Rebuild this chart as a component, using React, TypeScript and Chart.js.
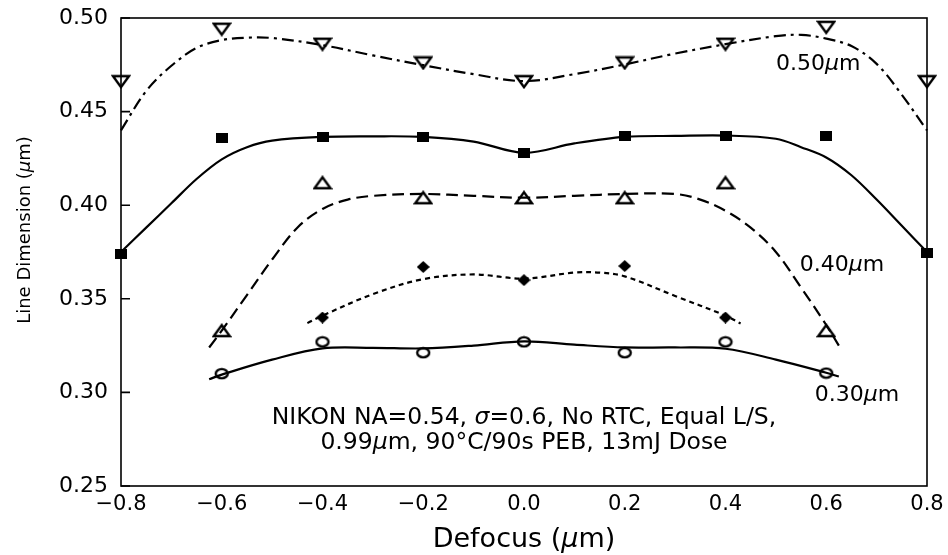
import React, { useEffect, useRef } from "react";
import { Chart, registerables } from "chart.js";

Chart.register(...registerables);

// ---- data ----
const xTicks = [-0.8, -0.6, -0.4, -0.2, 0, 0.2, 0.4, 0.6, 0.8];

// measured points
const pts050X = [-0.8, -0.6, -0.4, -0.2, 0, 0.2, 0.4, 0.6, 0.8];
const pts050Y = [0.466, 0.494, 0.486, 0.476, 0.466, 0.476, 0.486, 0.495, 0.466];

const ptsSqX = [-0.8, -0.6, -0.4, -0.2, 0, 0.2, 0.4, 0.6, 0.8];
const ptsSqY = [0.374, 0.436, 0.4365, 0.4365, 0.428, 0.437, 0.437, 0.437, 0.3745];

const ptsTriX = [-0.6, -0.4, -0.2, 0, 0.2, 0.4, 0.6];
const ptsTriY = [0.333, 0.412, 0.404, 0.404, 0.404, 0.412, 0.333];

const ptsDiaX = [-0.4, -0.2, 0, 0.2, 0.4];
const ptsDiaY = [0.34, 0.367, 0.36, 0.3675, 0.34];

const ptsCircX = [-0.6, -0.4, -0.2, 0, 0.2, 0.4, 0.6];
const ptsCircY = [0.31, 0.327, 0.3212, 0.327, 0.3212, 0.327, 0.3103];

// fitted curves
const curve050X = [-0.8, -0.75, -0.7, -0.65, -0.6, -0.55, -0.5, -0.4, -0.3, -0.2, -0.1, 0, 0.1, 0.2, 0.3, 0.4, 0.5, 0.55, 0.6, 0.65, 0.7, 0.75, 0.8];
const curve050Y = [0.44, 0.461, 0.4745, 0.484, 0.4882, 0.4895, 0.4893, 0.4855, 0.48, 0.4748, 0.47, 0.4663, 0.47, 0.4752, 0.481, 0.486, 0.4903, 0.491, 0.489, 0.485, 0.4755, 0.459, 0.44];

const curveSqX = [-0.8, -0.75, -0.7, -0.65, -0.6, -0.55, -0.5, -0.4, -0.3, -0.2, -0.1, 0, 0.1, 0.2, 0.3, 0.4, 0.5, 0.55, 0.6, 0.65, 0.7, 0.75, 0.8];
const curveSqY = [0.375, 0.388, 0.401, 0.414, 0.4245, 0.431, 0.4345, 0.4365, 0.4368, 0.4365, 0.434, 0.428, 0.433, 0.4365, 0.437, 0.4372, 0.4355, 0.431, 0.4255, 0.416, 0.403, 0.389, 0.375];

const curveTriX = [-0.625, -0.6, -0.55, -0.5, -0.45, -0.4, -0.35, -0.3, -0.2, -0.1, 0, 0.1, 0.2, 0.3, 0.35, 0.4, 0.45, 0.5, 0.55, 0.6, 0.625];
const curveTriY = [0.324, 0.333, 0.352, 0.371, 0.388, 0.398, 0.403, 0.405, 0.406, 0.405, 0.404, 0.405, 0.406, 0.406, 0.403, 0.397, 0.388, 0.375, 0.356, 0.336, 0.325];

const curveDiaX = [-0.43, -0.4, -0.3, -0.2, -0.1, 0, 0.1, 0.15, 0.2, 0.3, 0.4, 0.43];
const curveDiaY = [0.337, 0.341, 0.3525, 0.3605, 0.363, 0.3608, 0.364, 0.364, 0.362, 0.3515, 0.341, 0.3368];

const curveCircX = [-0.625, -0.6, -0.5, -0.4, -0.3, -0.2, -0.1, 0, 0.1, 0.2, 0.3, 0.4, 0.5, 0.6, 0.625];
const curveCircY = [0.307, 0.3095, 0.3175, 0.3235, 0.3238, 0.3235, 0.325, 0.3273, 0.3255, 0.324, 0.324, 0.3233, 0.3175, 0.3105, 0.3085];

// text labels (data coordinates)
type Part = { t: string; i?: boolean };
const seriesLabels: { x: number; y: number; size: number; parts: Part[] }[] = [
  { x: 0.584, y: 0.4755, size: 22, parts: [{ t: "0.50" }, { t: "\u03bc", i: true }, { t: "m" }] },
  { x: 0.631, y: 0.368, size: 22, parts: [{ t: "0.40" }, { t: "\u03bc", i: true }, { t: "m" }] },
  { x: 0.661, y: 0.2986, size: 22, parts: [{ t: "0.30" }, { t: "\u03bc", i: true }, { t: "m" }] },
  {
    x: 0.0, y: 0.2866, size: 23.5,
    parts: [{ t: "NIKON NA=0.54, " }, { t: "\u03c3", i: true }, { t: "=0.6, No RTC, Equal L/S," }],
  },
  {
    x: 0.0, y: 0.2732, size: 23.5,
    parts: [{ t: "0.99" }, { t: "\u03bc", i: true }, { t: "m, 90\u00b0C/90s PEB, 13mJ Dose" }],
  },
];
const xTitle: Part[] = [{ t: "Defocus (" }, { t: "\u03bc", i: true }, { t: "m)" }];
const yTitle: Part[] = [{ t: "Line Dimension (" }, { t: "\u03bc", i: true }, { t: "m)" }];

const FONT = '"DejaVu Sans", sans-serif';

function zip(xs: number[], ys: number[]) {
  return xs.map((x, i) => ({ x, y: ys[i] }));
}

function drawRich(ctx: CanvasRenderingContext2D, parts: Part[], cx: number, cy: number, size: number) {
  const fontOf = (p: Part) => `${p.i ? "italic " : ""}${size}px ${FONT}`;
  let total = 0;
  const widths = parts.map((p) => {
    ctx.font = fontOf(p);
    const w = ctx.measureText(p.t).width;
    total += w;
    return w;
  });
  let x = cx - total / 2;
  ctx.textBaseline = "middle";
  ctx.textAlign = "left";
  parts.forEach((p, i) => {
    ctx.font = fontOf(p);
    ctx.fillText(p.t, x, cy);
    x += widths[i];
  });
}

// marker glyphs (drawn once on small canvases, placed by Chart.js)
function glyph(w: number, h: number, draw: (c: CanvasRenderingContext2D) => void) {
  const c = document.createElement("canvas");
  c.width = w;
  c.height = h;
  const g = c.getContext("2d")!;
  g.strokeStyle = "#000";
  g.fillStyle = "#000";
  g.lineWidth = 2.4;
  g.lineJoin = "miter";
  draw(g);
  return c;
}

const decorPlugin = {
  id: "decor",
  beforeDatasetsDraw(chart: any) {
    const { ctx, chartArea: a, scales } = chart;
    ctx.save();
    ctx.strokeStyle = "#000";
    ctx.lineWidth = 1.6;
    ctx.strokeRect(a.left, a.top, a.right - a.left, a.bottom - a.top);
    ctx.beginPath();
    const ys = scales.y;
    ys.ticks.forEach((t: any) => {
      const py = ys.getPixelForValue(t.value);
      ctx.moveTo(a.left, py);
      ctx.lineTo(a.left + 9, py);
    });
    ctx.stroke();
    ctx.restore();
  },
  afterDatasetsDraw(chart: any) {
    const { ctx, scales } = chart;
    ctx.save();
    ctx.fillStyle = "#000";
    seriesLabels.forEach((l) => {
      drawRich(ctx, l.parts, scales.x.getPixelForValue(l.x), scales.y.getPixelForValue(l.y), l.size);
    });
    const a = chart.chartArea;
    drawRich(ctx, xTitle, (a.left + a.right) / 2, 540, 27);
    ctx.translate(25, 230);
    ctx.rotate(-Math.PI / 2);
    drawRich(ctx, yTitle, 0, 0, 18);
    ctx.restore();
  },
};

const BLACK = "#000";
const CLEAR = "rgba(0,0,0,0)";

export default function App() {
  const ref = useRef<HTMLCanvasElement | null>(null);

  useEffect(() => {
    document.body.style.margin = "0";
    const canvas = ref.current;
    if (!canvas) return;

    const triDown = glyph(20, 15, (g) => {
      g.beginPath();
      g.moveTo(2, 2);
      g.lineTo(18, 2);
      g.lineTo(10, 13);
      g.closePath();
      g.stroke();
    });
    const triUp = glyph(20, 15, (g) => {
      g.beginPath();
      g.moveTo(2, 13);
      g.lineTo(18, 13);
      g.lineTo(10, 2);
      g.closePath();
      g.stroke();
    });
    const square = glyph(12, 10, (g) => g.fillRect(0, 0, 12, 10));
    const diamond = glyph(13, 12, (g) => {
      g.beginPath();
      g.moveTo(6.5, 0);
      g.lineTo(13, 6);
      g.lineTo(6.5, 12);
      g.lineTo(0, 6);
      g.closePath();
      g.fill();
    });
    const circle = glyph(16, 13, (g) => {
      g.beginPath();
      g.ellipse(8, 6.5, 6, 4.6, 0, 0, Math.PI * 2);
      g.stroke();
    });

    const curve = (xs: number[], ys: number[], dash: number[]) => ({
      type: "line" as const,
      data: zip(xs, ys),
      borderColor: BLACK,
      borderWidth: 2.2,
      borderDash: dash,
      pointRadius: 0,
      tension: 0.35,
      fill: false,
      clip: false as any,
    });
    const marks = (xs: number[], ys: number[], style: any) => ({
      type: "line" as const,
      data: zip(xs, ys),
      showLine: false,
      pointStyle: style,
      pointRadius: 8,
      borderColor: BLACK,
      backgroundColor: CLEAR,
      clip: false as any,
    });

    const chart = new Chart(canvas, {
      type: "line",
      data: {
        datasets: [
          curve(curve050X, curve050Y, [12, 5, 3, 5]),
          curve(curveSqX, curveSqY, []),
          curve(curveTriX, curveTriY, [12, 6]),
          curve(curveDiaX, curveDiaY, [5, 4]),
          curve(curveCircX, curveCircY, []),
          marks(pts050X, pts050Y, triDown),
          marks(ptsSqX, ptsSqY, square),
          marks(ptsTriX, ptsTriY, triUp),
          marks(ptsDiaX, ptsDiaY, diamond),
          marks(ptsCircX, ptsCircY, circle),
        ] as any,
      },
      options: {
        responsive: false,
        animation: false,
        events: [],
        layout: { padding: { top: 18, right: 21, left: 0, bottom: 0 } },
        plugins: { legend: { display: false }, tooltip: { enabled: false } },
        scales: {
          x: {
            type: "linear",
            min: -0.8,
            max: 0.8,
            afterBuildTicks: (s: any) => {
              s.ticks = xTicks.map((v) => ({ value: v }));
            },
            afterFit: (s: any) => {
              s.height = 69;
              s.paddingLeft = 0;
              s.paddingRight = 0;
            },
            grid: { display: false, drawTicks: false },
            border: { display: false },
            ticks: {
              autoSkip: false,
              maxRotation: 0,
              padding: 6,
              color: BLACK,
              font: { family: FONT, size: 21 },
              callback: (v: any) => {
                const n = Number(v);
                if (Math.abs(n) < 1e-9) return "0.0";
                return (n < 0 ? "\u2212" : "") + Math.abs(n).toFixed(1);
              },
            },
          },
          y: {
            type: "linear",
            min: 0.25,
            max: 0.5,
            afterFit: (s: any) => {
              s.width = 121;
              s.paddingTop = 0;
              s.paddingBottom = 0;
            },
            grid: { display: false, drawTicks: false },
            border: { display: false },
            ticks: {
              stepSize: 0.05,
              padding: 13,
              color: BLACK,
              font: { family: FONT, size: 22 },
              callback: (v: any) => Number(v).toFixed(2),
            },
          },
        },
      },
      plugins: [decorPlugin],
    });

    return () => chart.destroy();
  }, []);

  return (
    <div style={{ position: "absolute", left: 0, top: 0, width: 948, height: 555, background: "#fff" }}>
      <canvas ref={ref} width={948} height={555} style={{ display: "block" }} />
    </div>
  );
}
